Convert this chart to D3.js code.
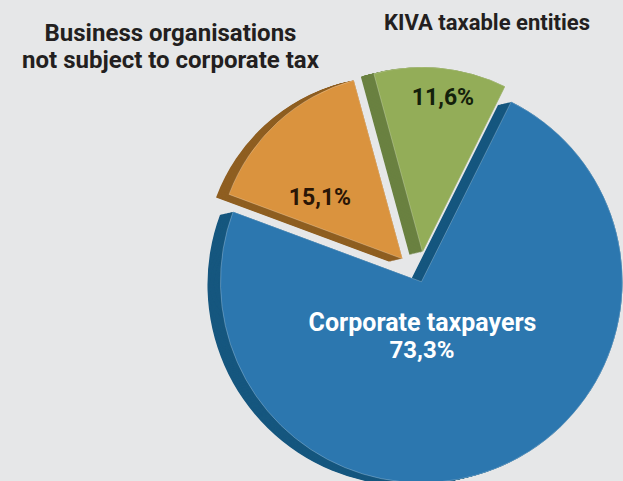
<!DOCTYPE html>
<html>
<head>
<meta charset="utf-8">
<script src="https://cdn.jsdelivr.net/npm/d3@7"></script>
<style>
  html, body { margin: 0; padding: 0; background: #e6e7e8; }
  svg { display: block; }
  text { font-family: Roboto, "Liberation Sans", sans-serif; font-weight: 700; }
</style>
</head>
<body>
<svg id="chart"></svg>
<script>
const WIDTH = 623;
const HEIGHT = 481;

// data
const CATEGORIES = ["Corporate taxpayers", "Business organisations not subject to corporate tax", "KIVA taxable entities"];
const SHARES = [73.3, 15.1, 11.6];
const SHARE_LABELS = ["73,3%", "15,1%", "11,6%"];

// look
const FACE_COLORS = ["#2c77af", "#da933e", "#93ad58"];
const SIDE_COLORS = ["#16577f", "#8f5f22", "#6a8140"];
const CENTER = { x: 420, y: 278 };
const RADII = [201, 185, 185];
const EXPLODE = [4, 26, 26];
const DEPTH = { x: -13, y: 3 };
const START = 26.5 * Math.PI / 180;

const SVG = d3.select("#chart")
  .attr("width", WIDTH)
  .attr("height", HEIGHT);

SVG.append("rect")
  .attr("width", WIDTH)
  .attr("height", HEIGHT)
  .attr("fill", "#e6e7e8");

const PIE = d3.pie()
  .sort(null)
  .value(d => d)
  .startAngle(START)
  .endAngle(START + 2 * Math.PI);

const SLICES = PIE(SHARES);

function arcFor(i) {
  return d3.arc().innerRadius(0).outerRadius(RADII[i]);
}

function offset(d) {
  const mid = (d.startAngle + d.endAngle) / 2;
  const e = EXPLODE[d.index];
  return { x: Math.sin(mid) * e, y: -Math.cos(mid) * e };
}

const G = SVG.append("g")
  .attr("transform", `translate(${CENTER.x},${CENTER.y})`);

// sides: stack shifted copies to fake the depth
const STEPS = d3.range(0, 1.0001, 1 / 16);
const SIDES = G.append("g");
SLICES.forEach(d => {
  const o = offset(d);
  SIDES.selectAll(null)
    .data(STEPS)
    .enter()
    .append("path")
    .attr("d", arcFor(d.index)(d))
    .attr("fill", SIDE_COLORS[d.index])
    .attr("transform", t => `translate(${o.x + DEPTH.x * (1 - t)},${o.y + DEPTH.y * (1 - t)})`);
});

// faces
G.append("g")
  .selectAll("path")
  .data(SLICES)
  .enter()
  .append("path")
  .attr("d", d => arcFor(d.index)(d))
  .attr("transform", d => { const o = offset(d); return `translate(${o.x},${o.y})`; })
  .attr("fill", d => FACE_COLORS[d.index])
  .attr("stroke", "rgba(255,255,255,0.3)")
  .attr("stroke-width", 0.8);

// labels
const TEXT_DARK = "#231f20";

SVG.append("text")
  .attr("x", 170.5)
  .attr("y", 41)
  .attr("text-anchor", "middle")
  .attr("font-size", 24)
  .attr("fill", TEXT_DARK)
  .selectAll("tspan")
  .data(["Business organisations", "not subject to corporate tax"])
  .enter()
  .append("tspan")
  .attr("x", 170.5)
  .attr("dy", (d, i) => i === 0 ? 0 : 27)
  .text(d => d);

SVG.append("text")
  .attr("x", 487)
  .attr("y", 30)
  .attr("text-anchor", "middle")
  .attr("font-size", 22)
  .attr("fill", TEXT_DARK)
  .text(CATEGORIES[2]);

SVG.append("text")
  .attr("x", 443)
  .attr("y", 105)
  .attr("text-anchor", "middle")
  .attr("font-size", 23)
  .attr("fill", "#13200b")
  .text(SHARE_LABELS[2]);

SVG.append("text")
  .attr("x", 320)
  .attr("y", 205)
  .attr("text-anchor", "middle")
  .attr("font-size", 23)
  .attr("fill", "#2a1606")
  .text(SHARE_LABELS[1]);

SVG.append("text")
  .attr("x", 422.5)
  .attr("y", 331)
  .attr("text-anchor", "middle")
  .attr("font-size", 25)
  .attr("fill", "#ffffff")
  .text(CATEGORIES[0]);

SVG.append("text")
  .attr("x", 422)
  .attr("y", 358)
  .attr("text-anchor", "middle")
  .attr("font-size", 24)
  .attr("fill", "#ffffff")
  .text(SHARE_LABELS[0]);
</script>
</body>
</html>
